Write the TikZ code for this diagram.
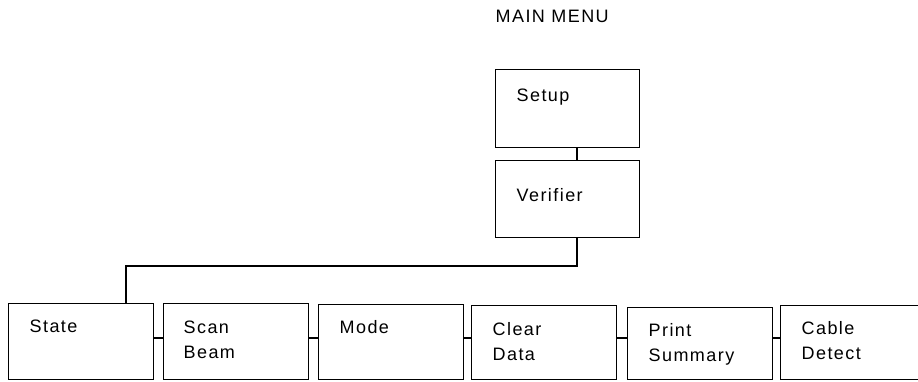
\documentclass[tikz,border=0pt]{standalone}
\usepackage{fontspec}
\setmainfont{Liberation Sans}[LetterSpace=8]
\usepackage{tikz}
\usetikzlibrary{positioning,calc}
\tikzset{menubox/.style={draw,line width=1.3pt,anchor=north west,inner sep=0pt,
  minimum width=145,minimum height=76},
  menutext/.style={anchor=base west,inner sep=0pt,align=left,
  font=\fontsize{18}{25}\selectfont}}

\begin{document}
\begin{tikzpicture}[x=1pt,y=-1pt,line width=1.3pt]
\clip (0,0) rectangle (918,381);
\useasboundingbox (0,0) rectangle (918,381);
\node[menutext] (title) at (495,22) {MAIN MENU};
% top of the menu
\node[menubox,minimum width=144,minimum height=78] (setup) at (495,69) {};
\node[menubox,minimum width=144,minimum height=77] (verifier) at (495,160) {};
\node[menutext] (setuptxt) at ($(setup.north west)+(21,32)$) {Setup};
\node[menutext] (verifiertxt) at ($(verifier.north west)+(21,41)$) {Verifier};
% sub menus (base of two-line texts is their last line)
\node[menubox,minimum height=76] (state) at (8,303) {};
\node[menubox,minimum height=76] (scan) at (163,303) {};
\node[menubox,minimum height=75] (mode) at (318,304) {};
\node[menubox,minimum height=74] (clear) at (471,305) {};
\node[menubox,minimum height=72] (print) at (627,307) {};
\node[menubox,minimum height=74] (cable) at (780,305) {};
\node[menutext] (statetxt) at ($(state.north west)+(21,29)$) {State};
\node[menutext] (scantxt) at ($(scan.north west)+(20,55)$) {Scan\\Beam};
\node[menutext] (modetxt) at ($(mode.north west)+(21,29)$) {Mode};
\node[menutext] (cleartxt) at ($(clear.north west)+(21,55)$) {Clear\\Data};
\node[menutext] (printtxt) at ($(print.north west)+(21,54)$) {Print\\Summary};
\node[menutext] (cabletxt) at ($(cable.north west)+(21,54)$) {Cable\\Detect};
% connectors
\coordinate (bus) at (577,266);
\coordinate (drop) at (126,266);
\coordinate (link) at (0,338);
\draw (setup.south -| bus) -- (verifier.north -| bus);
\draw (verifier.south -| bus) -- (bus) -- (drop) -- (state.north -| drop);
\foreach \a/\b in {state/scan,scan/mode,mode/clear,clear/print,print/cable}
  \draw (\a.east |- link) -- (\b.west |- link);
\end{tikzpicture}
\end{document}
